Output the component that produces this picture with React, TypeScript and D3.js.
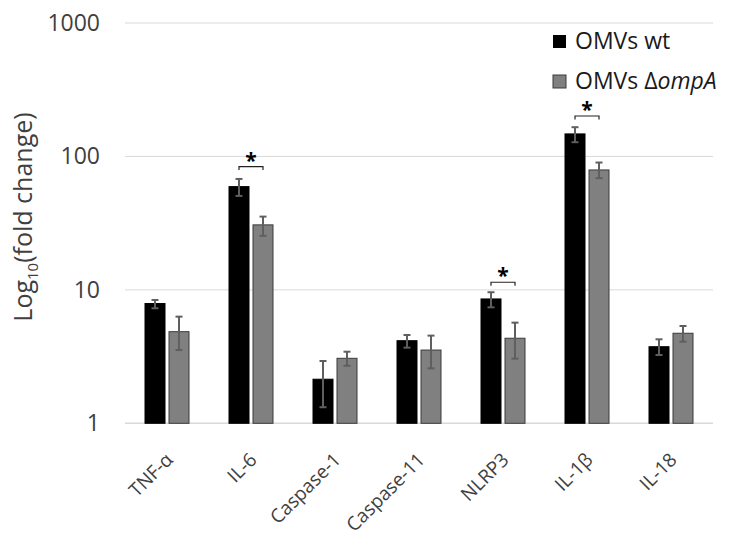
import React from "react";
import * as d3 from "d3";

const categories = ["TNF-α", "IL-6", "Caspase-1", "Caspase-11", "NLRP3", "IL-1β", "IL-18"];
const seriesKeys = ["wt", "ompA"];
const wtValues = [7.9, 59.4, 2.14, 4.16, 8.55, 147.5, 3.75];
const wtLow = [7.28, 50.6, 1.32, 3.69, 7.4, 127.8, 3.25];
const wtHigh = [8.4, 67.8, 2.93, 4.59, 9.6, 165.6, 4.26];
const ompAValues = [4.86, 30.7, 3.07, 3.54, 4.34, 79.2, 4.73];
const ompALow = [3.54, 25.4, 2.7, 2.58, 3.05, 68.7, 4.09];
const ompAHigh = [6.3, 35.4, 3.44, 4.54, 5.68, 90, 5.36];
const yTicks = [1, 10, 100, 1000];
const sigCategories = ["IL-6", "NLRP3", "IL-1β"];
const sigLevels = [84, 11.4, 201];

const W = 730;
const H = 542;

export default function App() {
  const x = d3.scaleBand<string>().domain(categories).range([125, 713]);
  const x1 = d3.scaleBand<string>().domain(seriesKeys).range([20, 64]).paddingInner(1 / 6);
  const y = d3.scaleLog().domain([1, 1000]).range([423.3, 23]);
  const font = "'Open Sans', sans-serif";
  const axisColor = "#404040";
  const grid = "#d9d9d9";
  const series = [
    { key: "wt", vals: wtValues, lo: wtLow, hi: wtHigh, fill: "#000000", stroke: "#000000" },
    { key: "ompA", vals: ompAValues, lo: ompALow, hi: ompAHigh, fill: "#808080", stroke: "#3a3a3a" },
  ];
  const bw = x1.bandwidth();
  const [x0r, x1r] = x.range();

  return (
    <svg width={W} height={H} style={{ position: "absolute", left: 0, top: 0, background: "#fff" }}>
      {yTicks.map((t) => (
        <g key={t}>
          <line x1={x0r} x2={x1r} y1={y(t)} y2={y(t)} stroke={grid} strokeWidth={t === 1 ? 1.5 : 1} />
          <text x={100} y={y(t)} dy="0.35em" textAnchor="end" fontFamily={font} fontSize={23} fill={axisColor}>
            {t}
          </text>
        </g>
      ))}
      {series.map((s) =>
        categories.map((c, i) => {
          const bx = (x(c) as number) + (x1(s.key) as number);
          const cx = bx + bw / 2;
          return (
            <g key={s.key + c}>
              <rect x={bx} y={y(s.vals[i])} width={bw} height={y(1) - y(s.vals[i])} fill={s.fill} stroke={s.stroke} strokeWidth={1} />
              <line x1={cx} x2={cx} y1={y(s.hi[i])} y2={y(s.lo[i])} stroke="#5f5f5f" strokeWidth={2} />
              <line x1={cx - 3.5} x2={cx + 3.5} y1={y(s.hi[i])} y2={y(s.hi[i])} stroke="#5f5f5f" strokeWidth={2} />
              <line x1={cx - 3.5} x2={cx + 3.5} y1={y(s.lo[i])} y2={y(s.lo[i])} stroke="#5f5f5f" strokeWidth={2} />
            </g>
          );
        })
      )}
      {sigCategories.map((c, i) => {
        const l = (x(c) as number) + (x1("wt") as number) + bw / 2;
        const r = (x(c) as number) + (x1("ompA") as number) + bw / 2;
        const yy = y(sigLevels[i]);
        return (
          <g key={"sig" + c}>
            <path d={`M${l},${yy + 3.5}V${yy}H${r}V${yy + 3.5}`} fill="none" stroke="#222" strokeWidth={1.2} />
            <text x={(l + r) / 2} y={yy + 1} textAnchor="middle" fontFamily={font} fontWeight="bold" fontSize={21} fill="#000">
              *
            </text>
          </g>
        );
      })}
      {categories.map((c) => {
        const cx = (x(c) as number) + x.bandwidth() / 2 + 7;
        const cy = 461;
        return (
          <g key={"xl" + c} transform={`translate(${cx},${cy}) rotate(-45)`}>
            <text x={0} y={0} textAnchor="end" fontFamily={font} fontSize={19} fill={axisColor}>
              {c}
            </text>
          </g>
        );
      })}
      <text transform="translate(32,217) rotate(-90)" textAnchor="middle" fontFamily={font} fontSize={25} fill={axisColor}>
        Log<tspan fontSize={15} dy={6}>10</tspan>
        <tspan dy={-6}>(fold change)</tspan>
      </text>
      <g>
        <rect x={553} y={35} width={13} height={13} fill="#000" />
        <text x={575} y={40.5} dy="0.35em" fontFamily={font} fontSize={23} fill="#1a1a1a">
          OMVs wt
        </text>
        <rect x={553} y={75} width={13} height={13} fill="#808080" stroke="#3a3a3a" strokeWidth={1} />
        <text x={575} y={80.5} dy="0.35em" fontFamily={font} fontSize={23} fill="#1a1a1a">
          OMVs Δ<tspan fontStyle="italic">ompA</tspan>
        </text>
      </g>
    </svg>
  );
}
